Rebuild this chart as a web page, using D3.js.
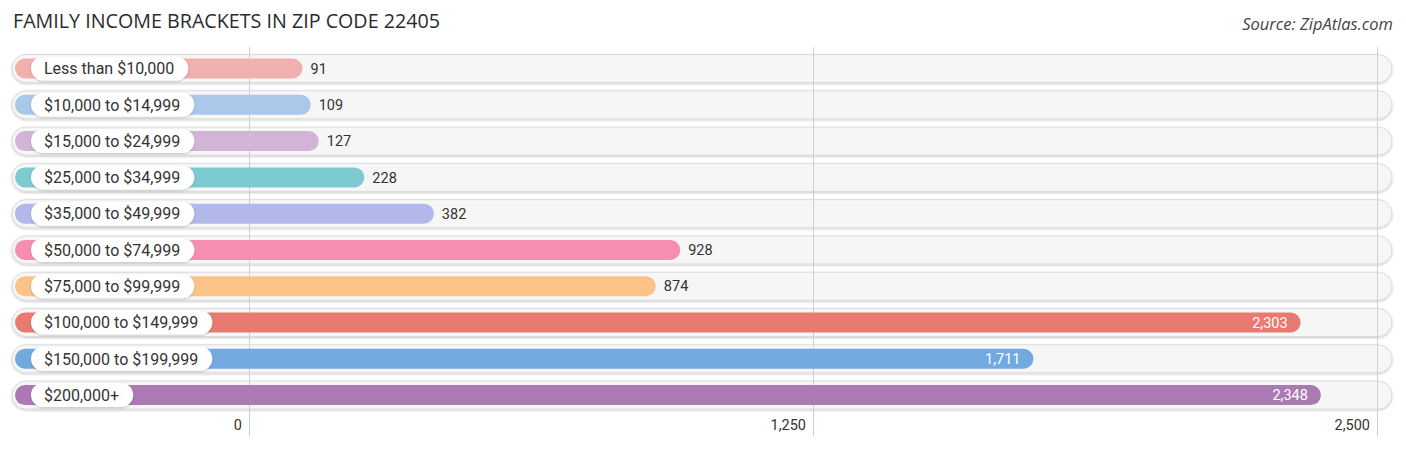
<!DOCTYPE html>
<html>
<head>
<meta charset="utf-8">
<script src="https://cdn.jsdelivr.net/npm/d3@7"></script>
<style>
  body { margin: 0; background: #fff; }
  svg { display: block; font-family: Roboto, sans-serif; }
</style>
</head>
<body>
<svg id="chart" width="1406" height="450"></svg>
<script>
const categories = [
  "Less than $10,000", "$10,000 to $14,999", "$15,000 to $24,999",
  "$25,000 to $34,999", "$35,000 to $49,999", "$50,000 to $74,999",
  "$75,000 to $99,999", "$100,000 to $149,999", "$150,000 to $199,999",
  "$200,000+"
];
const values = [91, 109, 127, 228, 382, 928, 874, 2303, 1711, 2348];
const colors = [
  "#f0b1ae", "#a9c8ea", "#d2b4d6", "#7ecad1", "#b2b8ea",
  "#f68eb0", "#fbc388", "#e97a72", "#72a9df", "#ac7ab3"
];
const tickValues = [0, 1250, 2500];

const svg = d3.select("#chart");

const defs = svg.append("defs");
const sh = defs.append("filter").attr("id", "sh")
  .attr("x", "-10%").attr("y", "-30%").attr("width", "120%").attr("height", "170%");
sh.append("feDropShadow").attr("dx", 0).attr("dy", 1).attr("stdDeviation", 1.2)
  .attr("flood-color", "#000").attr("flood-opacity", 0.22);

const x = d3.scaleLinear().domain([0, 2500]).range([249.5, 1377.5]);
const y = d3.scaleBand().domain(categories).range([50.4, 413.2]);
const cy = d => y(d) + y.bandwidth() / 2;

// title + source
svg.append("text").attr("x", 13).attr("y", 28)
  .style("font-family", "'Open Sans', sans-serif").style("font-size", "19.7px")
  .attr("fill", "#2b2b2b").text("FAMILY INCOME BRACKETS IN ZIP CODE 22405");
svg.append("text").attr("x", 1393).attr("y", 30).attr("text-anchor", "end")
  .style("font-family", "'Open Sans', sans-serif")
  .style("font-size", "16.5px").style("font-style", "italic")
  .attr("fill", "#444").text("Source: ZipAtlas.com");

// row backgrounds
svg.append("g").selectAll("rect").data(categories).join("rect")
  .attr("x", 12).attr("y", d => cy(d) - 14)
  .attr("width", 1380).attr("height", 28).attr("rx", 14)
  .attr("fill", "#f6f6f6").attr("stroke", "#dcdcdc").attr("stroke-width", 1)
  .attr("filter", "url(#sh)");

// grid
svg.append("g").selectAll("line").data(tickValues).join("line")
  .attr("x1", d => x(d)).attr("x2", d => x(d))
  .attr("y1", 47).attr("y2", 436)
  .attr("stroke", "#d0d0d0").attr("stroke-width", 1);

// bars
const rows = svg.append("g").selectAll("g").data(categories).join("g");
rows.append("rect")
  .attr("x", 15).attr("y", d => cy(d) - 10)
  .attr("width", (d, i) => x(values[i]) + 12 - 15)
  .attr("height", 20).attr("rx", 10)
  .attr("fill", (d, i) => colors[i]);

// label pills
rows.each(function (d) {
  const g = d3.select(this);
  const t = g.append("text").attr("x", 44).attr("y", cy(d))
    .attr("dy", "0.36em").style("font-size", "16px").attr("fill", "#333").text(d);
  const w = t.node().getComputedTextLength();
  g.insert("rect", "text").attr("x", 31).attr("y", cy(d) - 12)
    .attr("width", w + 27).attr("height", 24).attr("rx", 12)
    .attr("fill", "#fff").attr("filter", "url(#sh)");
});

// values
rows.append("text")
  .attr("x", (d, i) => values[i] > 1500 ? x(values[i]) - 1 : x(values[i]) + 20)
  .attr("y", d => cy(d)).attr("dy", "0.36em")
  .attr("text-anchor", (d, i) => values[i] > 1500 ? "end" : "start")
  .style("font-size", "14.5px")
  .attr("fill", (d, i) => values[i] > 1500 ? "#fff" : "#333")
  .text((d, i) => d3.format(",")(values[i]));

// axis
const axis = d3.axisBottom(x).tickValues(tickValues).tickSize(0).tickFormat(d3.format(","));
const ag = svg.append("g").attr("transform", "translate(0,417)").call(axis);
ag.select(".domain").remove();
ag.selectAll("text").attr("text-anchor", "end").attr("dx", "-8")
  .style("font-family", "Roboto, sans-serif").style("font-size", "14.5px").attr("fill", "#333");
</script>
</body>
</html>
